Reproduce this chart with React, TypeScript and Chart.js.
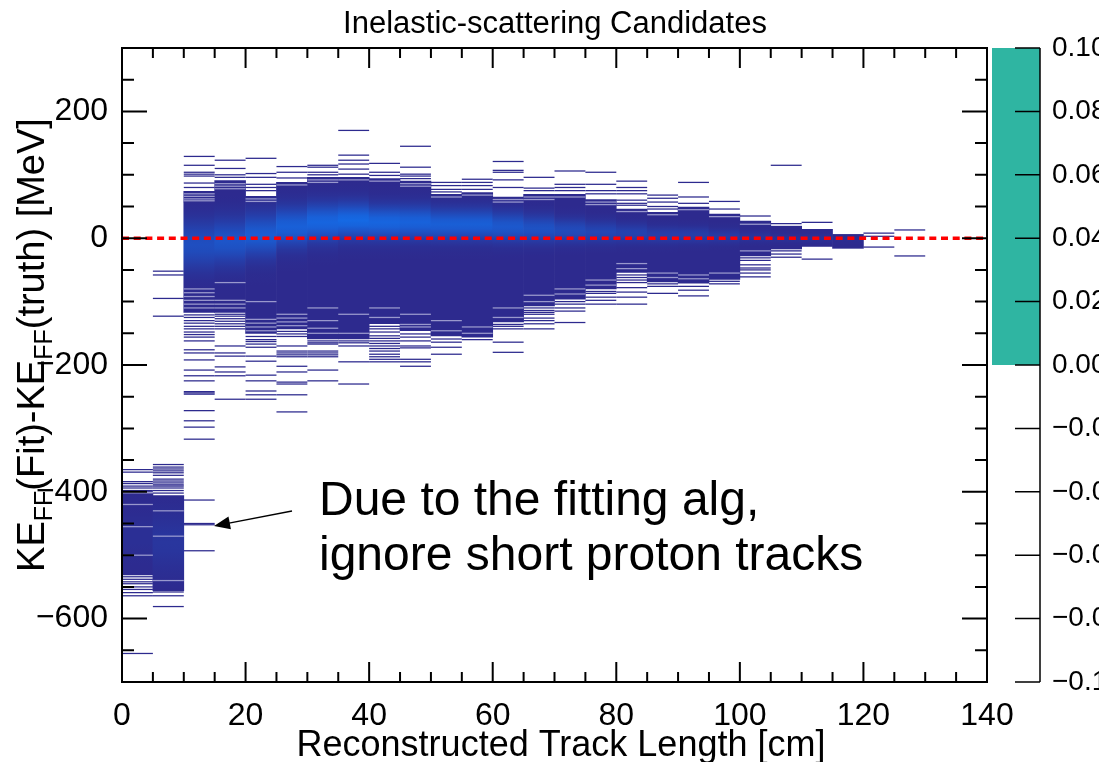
import React, { useEffect, useRef } from 'react';
import { Chart, registerables } from 'chart.js';

Chart.register(...registerables);

// ---------------- data ----------------
// x bins: low edge of each 5 cm track-length bin
const binLow = [0, 5, 10, 15, 20, 25, 30, 35, 40, 45, 50, 55, 60, 65, 70, 75, 80, 85, 90, 95, 100, 105, 110, 115, 120, 125];
const binWidth = 5; // cm
const yBinWidth = 2; // MeV, height of one histogram cell

// densely filled range of each column (MeV)
const denseHigh = [-403, -406, 74, 91, 66, 88, 96, 96, 94, 90, 69, 72, 65, 69, 69, 61, 46, 41, 49, 38, 27, 19, 14, 6, null, null];
const denseLow = [-531, -556, -117, -117, -150, -143, -159, -159, -135, -146, -154, -156, -132, -107, -96, -80, -54, -69, -71, -65, -28, -17, -13, -16, null, null];

// where the most populated cells sit in each column, how wide that core is, and how high it goes (0..1 of palette)
const peakCenter = [-470, -480, -10, -5, 5, 18, 25, 28, 25, 25, 22, 22, 18, 15, 12, 10, 8, 5, 5, 3, 2, 0, 0, 0, 0, 0];
const peakSpread = [45, 55, 45, 42, 40, 36, 34, 32, 30, 30, 28, 28, 27, 25, 22, 20, 18, 16, 15, 13, 10, 8, 8, 8, 8, 8];
const peakLevel = [0.08, 0.18, 0.55, 0.65, 0.75, 0.82, 0.9, 0.95, 0.9, 0.85, 0.8, 0.8, 0.7, 0.6, 0.5, 0.42, 0.36, 0.3, 0.3, 0.25, 0.15, 0.1, 0.1, 0.05, 0, 0];

// isolated single cells outside the dense core, per column (MeV)
const sparseCells: number[][] = [
  [-365, -369, -384, -387, -391, -394, -398, -400, -534, -538, -542, -545, -550, -554, -559, -564, -655],
  [-52, -58, -95, -123, -357, -361, -364, -367, -370, -374, -380, -383, -386, -389, -391, -394, -398, -402, -558, -564, -581],
  [129, 115, 104, 101, 98, 87, 80, 57, -121, -125, -130, -134, -139, -143, -148, -152, -156, -162, -176, -181, -192, -208, -217, -225, -242, -244, -246, -272, -288, -298, -317, -413, -450, -452, -493],
  [123, 110, 100, 96, -120, -123, -127, -131, -135, -139, -143, -170, -181, -186, -203, -211, -217, -254],
  [126, 102, 96, 85, 80, 75, -155, -160, -163, -167, -172, -186, -194, -216, -225, -241, -247, -254],
  [113, 104, 95, -147, -151, -155, -170, -178, -181, -184, -187, -202, -211, -227, -230, -247, -274],
  [115, 112, 104, 100, -162, -165, -167, -178, -181, -184, -187, -208, -225],
  [170, 131, 123, 117, 109, 101, -162, -165, -170, -195, -230],
  [118, 104, 99, -139, -143, -148, -154, -158, -162, -166, -170, -174, -178, -183, -187, -191, -195],
  [145, 112, 101, 98, 94, -151, -156, -162, -170, -173, -191, -195, -202],
  [88, 83, 77, 73, -159, -164, -172, -183],
  [93, 88, 83, 77, -160],
  [121, 107, 104, 92, 80, -136, -139, -143, -164, -180],
  [96, 79, 75, -110, -114, -117, -120, -126, -130, -135, -143],
  [106, 85, 80, 75, -100, -104, -110, -115, -133],
  [104, 85, 75, 70, -84, -87, -93, -98, -104],
  [90, 80, 75, 70, 60, 55, 52, -58, -62, -66, -70, -78, -85, -93, -104],
  [68, 63, 57, 50, 46, -72, -76, -87],
  [88, 65, 55, -76, -82, -91],
  [58, 46, -68, -72],
  [35, -31, -35, -42, -47, -50, -55, -61],
  [115, 23, -20, -25, -30],
  [25, -33],
  [],
  [8, 3, -14],
  [13, -28],
];

// under-populated cells inside the dense range (lighter streaks), per column (MeV)
const lightCells: number[][] = [
  [-420, -455, -500],
  [-430, -470, -540],
  [70, 66, 62, 59, -80, -86, -92, -98, -104, -110],
  [86, 82, 78, -70, -98, -104, -110],
  [62, 58, -100, -128, -134, -140, -146],
  [84, -120, -126, -132, -138],
  [92, 88, -110, -130, -142, -150],
  [92, -120, -150],
  [90, -110, -125],
  [86, 82, -120, -136, -140],
  [65, -130, -146],
  [68, -140, -150],
  [61, 57, -110, -125],
  [65, 61, -90, -100],
  [65, -80, -88],
  [57, 53, -66, -74],
  [42, -40, -48],
  [37, -55, -62],
  [45, -58, -64],
  [34, -55],
  [22, -20],
  [], [], [], [], [],
];

// reference line y = 0
const refLineX = [0, 140];
const refLineY = [0, 0];

// axes
const xRange = [0, 140];
const yRange = [-700, 300];
const xTickValues = [0, 20, 40, 60, 80, 100, 120, 140];
const yTickValues = [-600, -400, -200, 0, 200];
const xMinorStep = 5;
const yMinorStep = 50;
const zRange = [-0.1, 0.1];
const zTickValues = [0.1, 0.08, 0.06, 0.04, 0.02, 0, -0.02, -0.04, -0.06, -0.08, -0.1];
const zFilled = [0, 0.1];

const titleText = 'Inelastic-scattering Candidates';
const xTitle = 'Reconstructed Track Length [cm]';
const yTitleParts: [string, boolean][] = [['KE', false], ['FF', true], ['(Fit)-KE', false], ['FF', true], ['(truth) [MeV]', false]];
const noteLines = ['Due to the fitting alg,', 'ignore short proton tracks'];

// ---------------- styles ----------------
const FONT = '"Liberation Sans", Arial, Helvetica, sans-serif';
const NAVY = [45, 42, 142];
const BRIGHT = [20, 108, 232];
const TEAL = 'rgb(47,181,162)';

function mix(t: number) {
  const c = NAVY.map((n, k) => Math.round(n + (BRIGHT[k] - n) * Math.max(0, Math.min(1, t))));
  return `rgb(${c[0]},${c[1]},${c[2]})`;
}

function denseFill(ctx: any) {
  const raw = ctx.raw;
  const chart = ctx.chart;
  const ys = chart && chart.scales && chart.scales.y;
  if (!raw || !ys || raw.col === undefined) return mix(0);
  const i = raw.col;
  const hi = denseHigh[i] as number;
  const lo = denseLow[i] as number;
  const top = ys.getPixelForValue(hi);
  const bot = ys.getPixelForValue(lo);
  if (!isFinite(top) || !isFinite(bot) || bot - top < 1) return mix(0);
  const g = chart.ctx.createLinearGradient(0, top, 0, bot);
  const span = hi - lo;
  g.addColorStop(0, mix(0));
  for (let k = -10; k <= 10; k++) {
    const v = peakCenter[i] - (k * peakSpread[i]) / 4;
    const off = (hi - v) / span;
    if (off <= 0 || off >= 1) continue;
    g.addColorStop(off, mix(peakLevel[i] * Math.exp(-1.5 * (k / 4) * (k / 4))));
  }
  g.addColorStop(1, mix(0));
  return g;
}

const fmtSigned = (s: string, v: number) => (v < 0 ? '\u2212' + s.replace('-', '') : s);

const decorPlugin = {
  id: 'decor',
  afterDatasetsDraw(chart: any) {
    const { ctx, chartArea: a, scales } = chart;
    const xs = scales.x;
    const ys = scales.y;
    const zs = scales.z;
    ctx.save();
    // colour bar fill
    const zTop = zs.getPixelForValue(zFilled[1]);
    const zBot = zs.getPixelForValue(zFilled[0]);
    const cbRight = a.right + 53;
    const cbLeft = a.right + 5;
    ctx.fillStyle = TEAL;
    ctx.fillRect(cbLeft, zTop, cbRight - cbLeft, zBot - zTop);
    // colour bar axis
    ctx.strokeStyle = '#000';
    ctx.lineWidth = 1.5;
    ctx.beginPath();
    ctx.moveTo(cbRight, a.top);
    ctx.lineTo(cbRight, a.bottom);
    for (const z of zTickValues) {
      const py = zs.getPixelForValue(z);
      ctx.moveTo(cbRight - 25, py);
      ctx.lineTo(cbRight, py);
    }
    ctx.stroke();

    // frame ticks
    ctx.lineWidth = 2;
    ctx.beginPath();
    for (let v = xRange[0]; v <= xRange[1]; v += xMinorStep) {
      const px = xs.getPixelForValue(v);
      const len = v % 20 === 0 ? 20 : 10;
      ctx.moveTo(px, a.bottom);
      ctx.lineTo(px, a.bottom - len);
      ctx.moveTo(px, a.top);
      ctx.lineTo(px, a.top + len);
    }
    for (let v = yRange[0]; v <= yRange[1]; v += yMinorStep) {
      const py = ys.getPixelForValue(v);
      const len = v % 200 === 0 ? 25 : 12;
      ctx.moveTo(a.left, py);
      ctx.lineTo(a.left + len, py);
      ctx.moveTo(a.right, py);
      ctx.lineTo(a.right - len, py);
    }
    ctx.stroke();
    ctx.strokeRect(a.left, a.top, a.right - a.left, a.bottom - a.top);

    // title
    ctx.fillStyle = '#000';
    ctx.textBaseline = 'alphabetic';
    ctx.textAlign = 'center';
    ctx.font = `31px ${FONT}`;
    ctx.fillText(titleText, 555, 33);

    // x title
    ctx.font = `36px ${FONT}`;
    ctx.fillText(xTitle, 561, 756);

    // y title with subscripts
    ctx.save();
    ctx.translate(44, 345);
    ctx.rotate(-Math.PI / 2);
    ctx.textAlign = 'left';
    const mainFont = `38px ${FONT}`;
    const subFont = `25px ${FONT}`;
    let total = 0;
    for (const [t, sub] of yTitleParts) {
      ctx.font = sub ? subFont : mainFont;
      total += ctx.measureText(t).width;
    }
    let cx = -total / 2;
    for (const [t, sub] of yTitleParts) {
      ctx.font = sub ? subFont : mainFont;
      ctx.fillText(t, cx, sub ? 8 : 0);
      cx += ctx.measureText(t).width;
    }
    ctx.restore();

    // annotation
    ctx.textAlign = 'left';
    ctx.font = `48px ${FONT}`;
    ctx.fillText(noteLines[0], 319, 515);
    ctx.fillText(noteLines[1], 319, 570);

    // arrow
    const x0 = 292, y0 = 511, x1 = 214, y1 = 526;
    const ang = Math.atan2(y1 - y0, x1 - x0);
    ctx.lineWidth = 1.3;
    ctx.beginPath();
    ctx.moveTo(x0, y0);
    ctx.lineTo(x1 - Math.cos(ang) * 10, y1 - Math.sin(ang) * 10);
    ctx.stroke();
    const hl = 16, hw = 6.5;
    const bx = x1 - Math.cos(ang) * hl, by = y1 - Math.sin(ang) * hl;
    ctx.beginPath();
    ctx.moveTo(x1, y1);
    ctx.lineTo(bx + Math.sin(ang) * hw, by - Math.cos(ang) * hw);
    ctx.lineTo(bx - Math.sin(ang) * hw, by + Math.cos(ang) * hw);
    ctx.closePath();
    ctx.fill();
    ctx.restore();
  },
};

export default function App() {
  const ref = useRef<HTMLCanvasElement>(null);

  useEffect(() => {
    const canvas = ref.current;
    if (!canvas) return;

    const denseData = binLow
      .map((b, i) => (denseHigh[i] === null ? null : { x: b + binWidth / 2, y: [denseLow[i], denseHigh[i]], col: i }))
      .filter((d) => d !== null);
    const cellData = sparseCells.flatMap((vals, i) =>
      vals.map((v) => ({ x: binLow[i] + binWidth / 2, y: [v - yBinWidth / 2, v + yBinWidth / 2], col: i }))
    );
    const lightData = lightCells.flatMap((vals, i) =>
      vals.map((v) => ({ x: binLow[i] + binWidth / 2, y: [v - yBinWidth / 2, v + yBinWidth / 2], col: i }))
    );
    const lineData = refLineX.map((x, i) => ({ x, y: refLineY[i] }));

    const chart = new Chart(canvas, {
      type: 'bar',
      data: {
        datasets: [
          {
            type: 'line',
            label: 'zero',
            data: lineData as any,
            borderColor: 'rgb(255,0,0)',
            borderWidth: 3.5,
            borderDash: [7, 4.7],
            pointRadius: 0,
            fill: false,
            order: 0,
          } as any,
          {
            label: 'light',
            data: lightData as any,
            backgroundColor: 'rgba(190,190,225,0.75)',
            borderWidth: 0,
            grouped: false,
            barPercentage: 1,
            categoryPercentage: 1,
            inflateAmount: 0,
            order: 1,
          } as any,
          {
            label: 'dense',
            data: denseData as any,
            backgroundColor: denseFill as any,
            borderWidth: 0,
            grouped: false,
            barPercentage: 1,
            categoryPercentage: 1,
            order: 2,
          },
          {
            label: 'cells',
            data: cellData as any,
            backgroundColor: mix(0),
            borderWidth: 0,
            grouped: false,
            barPercentage: 1,
            categoryPercentage: 1,
            inflateAmount: 0,
            order: 3,
          } as any,
        ],
      },
      options: {
        responsive: false,
        devicePixelRatio: 1,
        animation: false,
        events: [],
        layout: { padding: { top: 48, right: 0, left: 0, bottom: 0 } },
        plugins: {
          legend: { display: false },
          tooltip: { enabled: false },
          title: { display: false },
        },
        scales: {
          x: {
            type: 'linear',
            min: xRange[0],
            max: xRange[1],
            offset: false,
            grid: { display: false, drawTicks: true, tickLength: 15 },
            border: { display: false },
            afterBuildTicks: (s: any) => {
              s.ticks = xTickValues.map((v) => ({ value: v }));
            },
            afterFit: (s: any) => {
              s.height = 80;
            },
            ticks: {
              autoSkip: false,
              maxRotation: 0,
              minRotation: 0,
              padding: 0,
              color: '#000',
              font: { family: FONT, size: 32 },
              callback: (v: any) => String(v),
            },
          },
          y: {
            type: 'linear',
            position: 'left',
            min: yRange[0],
            max: yRange[1],
            grid: { display: false, drawTicks: true, tickLength: 14 },
            border: { display: false },
            afterBuildTicks: (s: any) => {
              s.ticks = yTickValues.map((v) => ({ value: v }));
            },
            afterFit: (s: any) => {
              s.width = 122;
            },
            ticks: {
              padding: 0,
              color: '#000',
              font: { family: FONT, size: 32 },
              callback: (v: any) => fmtSigned(String(v), Number(v)),
            },
          },
          z: {
            type: 'linear',
            axis: 'y',
            position: 'right',
            min: zRange[0],
            max: zRange[1],
            grid: { display: false, drawTicks: true, tickLength: 65 },
            border: { display: false },
            afterBuildTicks: (s: any) => {
              s.ticks = zTickValues.map((v) => ({ value: v }));
            },
            afterFit: (s: any) => {
              s.width = 112;
            },
            ticks: {
              padding: 0,
              color: '#000',
              font: { family: FONT, size: 28 },
              callback: (v: any) => fmtSigned(Math.abs(Number(v)).toFixed(2), Number(v) < -1e-9 ? -1 : 1),
            },
          },
        } as any,
      },
      plugins: [decorPlugin],
    });

    return () => chart.destroy();
  }, []);

  return (
    <div style={{ position: 'fixed', left: 0, top: 0, width: 1099, height: 762, background: '#fff' }}>
      <canvas ref={ref} width={1099} height={762} style={{ display: 'block', width: 1099, height: 762 }} />
    </div>
  );
}
